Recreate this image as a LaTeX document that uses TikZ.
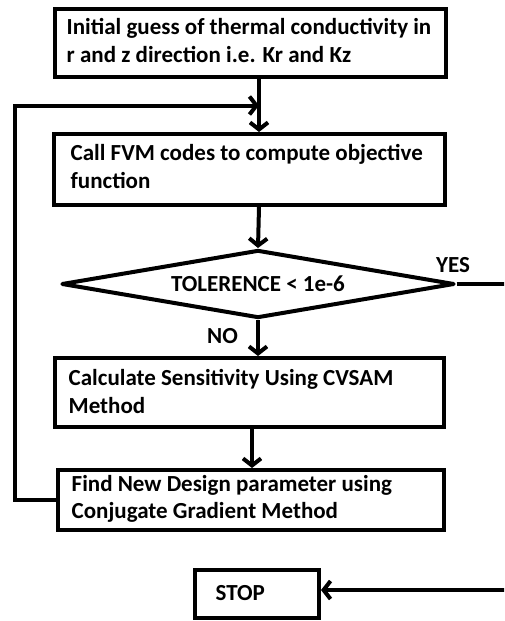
\documentclass[tikz,border=0pt]{standalone}
\usepackage{fontspec}
\setmainfont{Carlito}
\usetikzlibrary{arrows.meta,shapes.geometric}
\begin{document}
\begin{tikzpicture}[x=1pt,y=-1pt,
  stepbox/.style={draw, rectangle, line width=4pt, inner sep=0pt},
  decision/.style={draw, diamond, line width=4pt, line join=round, aspect=5.5, inner sep=0pt},
  lbl/.style={inner sep=0pt, align=left, font=\fontsize{23}{27.5}\selectfont\bfseries},
  flow/.style={line width=4pt, -{Straight Barb[length=7pt,width=18pt]}},
]
% page
\fill[white] (0,0) rectangle (504,621);
\clip (0,0) rectangle (504,621);

% process boxes
\node[stepbox, minimum width=391pt, minimum height=68pt] (init) at (250.5,43) {};
\node[stepbox, minimum width=391pt, minimum height=71pt] (fvm) at (249.5,169.5) {};
\node[decision, minimum width=393pt, minimum height=68pt, lbl] (tol) at (258,284) {TOLERENCE < 1e-6};
\node[stepbox, minimum width=389pt, minimum height=69pt] (sens) at (249.5,392.5) {};
\node[stepbox, minimum width=386pt, minimum height=60pt] (cg) at (251,500) {};
\node[stepbox, minimum width=124pt, minimum height=48pt] (stop) at (257,594) {};

% box texts (anchored at the baseline of their last line)
\node[lbl, anchor=base west] (initT) at (66.5,62) {Initial guess of thermal conductivity in\\r and z direction i.e. Kr and Kz};
\node[lbl, anchor=base west] (fvmT) at (70.5,188) {Call FVM codes to compute objective\\function};
\node[lbl, anchor=base west] (sensT) at (68.5,413) {Calculate Sensitivity Using CVSAM\\Method};
\node[lbl, anchor=base west] (cgT) at (71.5,518.5) {Find New Design parameter using\\Conjugate Gradient Method};
\node[lbl, anchor=base west] (stopT) at (215.5,600) {STOP};
\node[lbl, anchor=base west] (yes) at (436,272) {YES};
\node[lbl, anchor=base west] (no) at (207,343) {NO};

% helper points for the loop and the exit
\coordinate (spine) at (259,0);
\coordinate (loopin) at (259,105.5);
\coordinate (loopx) at (14.5,105.5);
\coordinate (yesx) at (508,284);

% connectors
\draw[flow] (init.south -| spine) -- (fvm.north -| spine);
\draw[flow] (cg.west) -| (loopx) -- (loopin);
\draw[flow] (fvm.south -| spine) -- (tol.north);
\draw[flow] (tol.south) -- (tol.south |- sens.north);
\draw[flow] ([xshift=2.5pt]sens.south) -- ([xshift=2.5pt]sens.south |- cg.north);
\draw[flow] (tol.east) -- (yesx) |- ([yshift=4pt]stop.east);
\end{tikzpicture}
\end{document}
